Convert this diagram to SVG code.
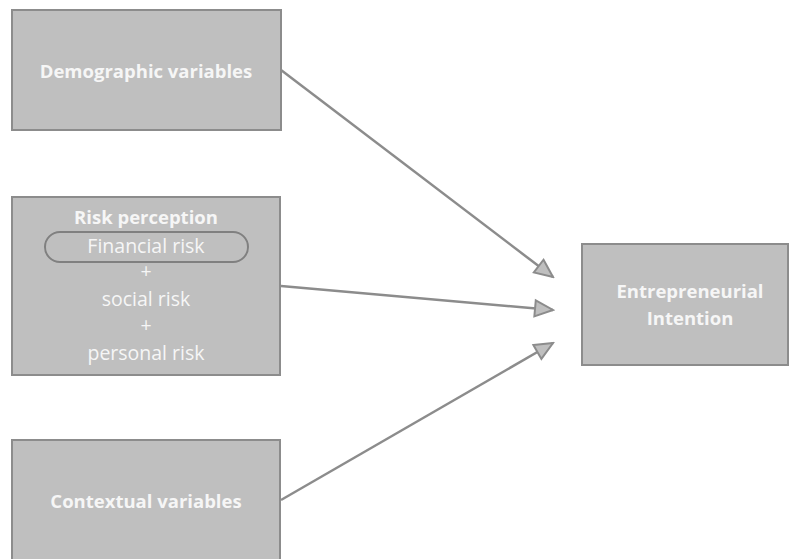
<svg xmlns="http://www.w3.org/2000/svg" width="789" height="559" viewBox="0 0 789 559">
  <style>
    .box { fill: #bfbfbf; stroke: #8c8c8c; stroke-width: 2; }
    .pill { fill: none; stroke: #808080; stroke-width: 2; }
    .t { font-family: "Open Sans", "Noto Sans", "Liberation Sans", sans-serif; fill: #f6f6f6; text-anchor: middle; }
    .b { font-weight: bold; font-size: 18.5px; }
    .r { font-size: 19.5px; }
    .edge { stroke: #8c8c8c; stroke-width: 2.5; fill: none; }
  </style>
  <defs>
    <marker id="arrow" viewBox="0 0 22 20" refX="20" refY="10" markerWidth="22" markerHeight="20" markerUnits="userSpaceOnUse" orient="auto">
      <path d="M2,2 L20,10 L2,18 Z" fill="#bfbfbf" stroke="#8c8c8c" stroke-width="2" stroke-linejoin="miter"/>
    </marker>
  </defs>
  <rect width="789" height="559" fill="#ffffff"/>

  <g id="connectors">
    <line class="edge" x1="281" y1="70" x2="553" y2="277" marker-end="url(#arrow)"/>
    <line class="edge" x1="281" y1="286" x2="553" y2="310" marker-end="url(#arrow)"/>
    <line class="edge" x1="281" y1="500" x2="553" y2="343" marker-end="url(#arrow)"/>
  </g>

  <g id="demographic">
    <rect class="box" x="12" y="10" width="269" height="120"/>
    <text class="t b" x="146" y="78">Demographic variables</text>
  </g>

  <g id="risk-perception">
    <rect class="box" x="12" y="197" width="268" height="178"/>
    <text class="t b" x="146" y="224">Risk perception</text>
    <rect class="pill" x="45" y="232" width="203" height="30" rx="15" ry="15"/>
    <text class="t r" x="146" y="253">Financial risk</text>
    <text class="t r" x="146" y="278">+</text>
    <text class="t r" x="146" y="306">social risk</text>
    <text class="t r" x="146" y="332">+</text>
    <text class="t r" x="146" y="360">personal risk</text>
  </g>

  <g id="intention">
    <rect class="box" x="582" y="244" width="206" height="121"/>
    <text class="t b" x="690" y="298">Entrepreneurial</text>
    <text class="t b" x="690" y="325">Intention</text>
  </g>

  <g id="contextual">
    <rect class="box" x="12" y="440" width="268" height="130"/>
    <text class="t b" x="146" y="508">Contextual variables</text>
  </g>
</svg>
